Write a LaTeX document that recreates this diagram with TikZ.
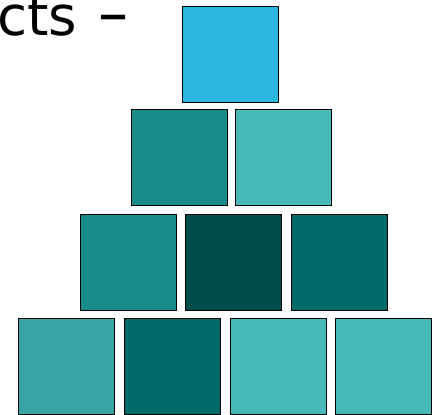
\documentclass[tikz,border=0pt]{standalone}
\usepackage{fontspec}
\setmainfont{DejaVu Sans}
\definecolor{skycyan}{HTML}{2AB7DE}
\definecolor{tealmid}{HTML}{1B8B89}
\definecolor{teallight}{HTML}{49B8B8}
\definecolor{tealdeep}{HTML}{004D4D}
\definecolor{tealdark}{HTML}{006C6A}
\definecolor{tealsoft}{HTML}{38A4A4}
\tikzset{tile/.style={draw=black, line width=0.8pt, minimum size=72pt, inner sep=0pt, anchor=north west}}
\begin{document}
\begin{tikzpicture}[x=0.75pt,y=-0.75pt]
    \useasboundingbox (0,0) rectangle (442,414);
    \node[anchor=base west, inner sep=0pt, font=\fontsize{41}{48}\selectfont] (title) at (-3,36) {cts\hspace{3pt} \scalebox{1.1}[1.2]{–}};
    % Top row
    \node[tile, fill=skycyan] (t11) at (182.3,6) {};
    % Second row
    \node[tile, fill=tealmid] (t21) at (131,109.3) {};
    \node[tile, fill=teallight] (t22) at (234.7,109.3) {};
    % Third row
    \node[tile, fill=tealmid] (t31) at (79.7,214) {};
    \node[tile, fill=tealdeep] (t32) at (185.3,214) {};
    \node[tile, fill=tealdark] (t33) at (291,214) {};
    % Bottom row
    \node[tile, fill=tealsoft] (t41) at (18.3,317.7) {};
    \node[tile, fill=tealdark] (t42) at (124.3,317.7) {};
    \node[tile, fill=teallight] (t43) at (230,317.7) {};
    \node[tile, fill=teallight] (t44) at (335.3,317.7) {};
\end{tikzpicture}
\end{document}
